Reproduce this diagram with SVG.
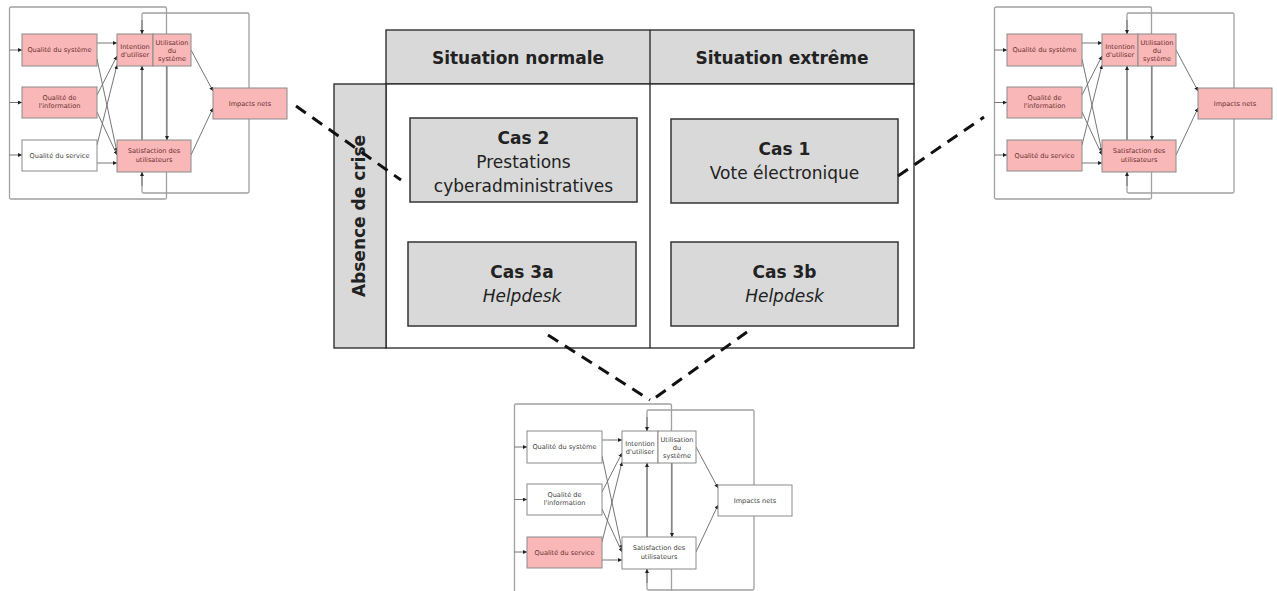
<svg xmlns="http://www.w3.org/2000/svg" xmlns:xlink="http://www.w3.org/1999/xlink" width="1277" height="591" viewBox="0 0 1277 591">
<style>
.hdr{fill:#d9d9d9;stroke:#222;stroke-width:1.3}
.body{fill:#fff;stroke:#222;stroke-width:1.3}
.case{fill:#d9d9d9;stroke:#333;stroke-width:1.5}
.t{font-family:"DejaVu Sans","Verdana",sans-serif;font-size:17px;fill:#222;text-anchor:middle}
.b{font-weight:bold}
.i{font-style:italic}
.mt{font-family:"DejaVu Sans","Verdana",sans-serif;font-size:6.6px;text-anchor:middle}
.pk{fill:#f9b7b7;stroke:#8a8a8a;stroke-width:1}
.wh{fill:#fff;stroke:#8a8a8a;stroke-width:1}
.pkt{fill:#6a3030}
.wht{fill:#444}
.loop{fill:none;stroke:#a0a0a0;stroke-width:1.3}
.ar{fill:none;stroke:#666;stroke-width:0.9}
.dash{fill:none;stroke:#111;stroke-width:3;stroke-dasharray:12 8}
</style>
<defs>
<marker id="ah" viewBox="0 0 6 6" refX="6" refY="3" markerWidth="4" markerHeight="4" markerUnits="userSpaceOnUse" orient="auto">
<path d="M0,0 L6,3 L0,6 z" fill="#222"/>
</marker>
<g id="links">
<rect class="loop" x="9.5" y="7" width="157" height="192" rx="1.5"/>
<rect class="loop" x="142" y="13" width="107" height="180" rx="1.5"/>
<line class="ar" x1="9.5" y1="50" x2="22" y2="50" marker-end="url(#ah)"/>
<line class="ar" x1="9.5" y1="102.5" x2="22" y2="102.5" marker-end="url(#ah)"/>
<line class="ar" x1="9.5" y1="155" x2="22" y2="155" marker-end="url(#ah)"/>
<line class="ar" x1="97" y1="43" x2="117" y2="43" marker-end="url(#ah)"/>
<line class="ar" x1="97" y1="59" x2="117" y2="152" marker-end="url(#ah)"/>
<line class="ar" x1="97" y1="95" x2="117" y2="56" marker-end="url(#ah)"/>
<line class="ar" x1="97" y1="112" x2="117" y2="155" marker-end="url(#ah)"/>
<line class="ar" x1="97" y1="145" x2="117" y2="65" marker-end="url(#ah)"/>
<line class="ar" x1="97" y1="163" x2="117" y2="163" marker-end="url(#ah)"/>
<line class="ar" x1="142" y1="140" x2="142" y2="66" marker-end="url(#ah)"/>
<line class="ar" x1="167" y1="66" x2="167" y2="140" marker-end="url(#ah)"/>
<line class="ar" x1="142" y1="20" x2="142" y2="34" marker-end="url(#ah)"/>
<line class="ar" x1="142" y1="186" x2="142" y2="172" marker-end="url(#ah)"/>
<line class="ar" x1="191" y1="50" x2="213" y2="91" marker-end="url(#ah)"/>
<line class="ar" x1="191" y1="155" x2="213" y2="108" marker-end="url(#ah)"/>
</g>
</defs>

<!-- Mini diagram top-left -->
<g id="mini-top-left">
<use xlink:href="#links" href="#links"/>
<g id="tl-qsys"><rect class="pk" x="22" y="34" width="75" height="32"/><text class="mt pkt" x="59.5" y="52.3">Qualité du système</text></g>
<g id="tl-qinfo"><rect class="pk" x="22" y="87" width="75" height="31"/><text class="mt pkt" x="59.5" y="100">Qualité de</text><text class="mt pkt" x="59.5" y="108.3">l'information</text></g>
<g id="tl-qserv"><rect class="wh" x="22" y="140" width="75" height="31"/><text class="mt wht" x="59.5" y="157.8">Qualité du service</text></g>
<g id="tl-int"><rect class="pk" x="117" y="34" width="36" height="32"/><text class="mt pkt" x="135" y="48.5">Intention</text><text class="mt pkt" x="135" y="57">d'utiliser</text></g>
<g id="tl-util"><rect class="pk" x="153" y="34" width="38" height="32"/><text class="mt pkt" x="172" y="44.5">Utilisation</text><text class="mt pkt" x="172" y="52.8">du</text><text class="mt pkt" x="172" y="61">système</text></g>
<g id="tl-sat"><rect class="pk" x="117" y="140" width="74" height="32"/><text class="mt pkt" x="154" y="153">Satisfaction des</text><text class="mt pkt" x="154" y="161.5">utilisateurs</text></g>
<g id="tl-imp"><rect class="pk" x="213" y="88" width="74" height="31"/><text class="mt pkt" x="250" y="105.8">Impacts nets</text></g>
</g>

<!-- Mini diagram top-right -->
<g id="mini-top-right" transform="translate(985,0)">
<use xlink:href="#links" href="#links"/>
<g id="tr-qsys"><rect class="pk" x="22" y="34" width="75" height="32"/><text class="mt pkt" x="59.5" y="52.3">Qualité du système</text></g>
<g id="tr-qinfo"><rect class="pk" x="22" y="87" width="75" height="31"/><text class="mt pkt" x="59.5" y="100">Qualité de</text><text class="mt pkt" x="59.5" y="108.3">l'information</text></g>
<g id="tr-qserv"><rect class="pk" x="22" y="140" width="75" height="31"/><text class="mt pkt" x="59.5" y="157.8">Qualité du service</text></g>
<g id="tr-int"><rect class="pk" x="117" y="34" width="36" height="32"/><text class="mt pkt" x="135" y="48.5">Intention</text><text class="mt pkt" x="135" y="57">d'utiliser</text></g>
<g id="tr-util"><rect class="pk" x="153" y="34" width="38" height="32"/><text class="mt pkt" x="172" y="44.5">Utilisation</text><text class="mt pkt" x="172" y="52.8">du</text><text class="mt pkt" x="172" y="61">système</text></g>
<g id="tr-sat"><rect class="pk" x="117" y="140" width="74" height="32"/><text class="mt pkt" x="154" y="153">Satisfaction des</text><text class="mt pkt" x="154" y="161.5">utilisateurs</text></g>
<g id="tr-imp"><rect class="pk" x="213" y="88" width="74" height="31"/><text class="mt pkt" x="250" y="105.8">Impacts nets</text></g>
</g>

<!-- Mini diagram bottom -->
<g id="mini-bottom" transform="translate(505,397)">
<use xlink:href="#links" href="#links"/>
<g id="bt-qsys"><rect class="wh" x="22" y="34" width="75" height="32"/><text class="mt wht" x="59.5" y="52.3">Qualité du système</text></g>
<g id="bt-qinfo"><rect class="wh" x="22" y="87" width="75" height="31"/><text class="mt wht" x="59.5" y="100">Qualité de</text><text class="mt wht" x="59.5" y="108.3">l'information</text></g>
<g id="bt-qserv"><rect class="pk" x="22" y="140" width="75" height="31"/><text class="mt pkt" x="59.5" y="157.8">Qualité du service</text></g>
<g id="bt-int"><rect class="wh" x="117" y="34" width="36" height="32"/><text class="mt wht" x="135" y="48.5">Intention</text><text class="mt wht" x="135" y="57">d'utiliser</text></g>
<g id="bt-util"><rect class="wh" x="153" y="34" width="38" height="32"/><text class="mt wht" x="172" y="44.5">Utilisation</text><text class="mt wht" x="172" y="52.8">du</text><text class="mt wht" x="172" y="61">système</text></g>
<g id="bt-sat"><rect class="wh" x="117" y="140" width="74" height="32"/><text class="mt wht" x="154" y="153">Satisfaction des</text><text class="mt wht" x="154" y="161.5">utilisateurs</text></g>
<g id="bt-imp"><rect class="wh" x="213" y="88" width="74" height="31"/><text class="mt wht" x="250" y="105.8">Impacts nets</text></g>
</g>

<!-- Central table -->
<g id="table">
<rect class="hdr" x="386" y="30" width="528" height="54"/>
<rect class="body" x="386" y="84" width="528" height="264"/>
<rect class="hdr" x="334" y="84" width="52" height="264"/>
<line x1="650" y1="30" x2="650" y2="348" stroke="#222" stroke-width="1.3"/>
<text class="t b" x="518" y="64">Situation normale</text>
<text class="t b" x="782" y="64">Situation extrême</text>
<text class="t b" transform="translate(365,216) rotate(-90)" x="0" y="0">Absence de crise</text>
</g>
<g id="cas2"><rect class="case" x="410" y="118" width="227" height="84"/>
<text class="t b" x="523.5" y="144">Cas 2</text>
<text class="t" x="523.5" y="168">Prestations</text>
<text class="t" x="523.5" y="192">cyberadministratives</text></g>
<g id="cas1"><rect class="case" x="671" y="119" width="227" height="84"/>
<text class="t b" x="784.5" y="155">Cas 1</text>
<text class="t" x="784.5" y="179">Vote électronique</text></g>
<g id="cas3a"><rect class="case" x="408" y="242" width="228" height="84"/>
<text class="t b" x="522" y="278">Cas 3a</text>
<text class="t i" x="522" y="302">Helpdesk</text></g>
<g id="cas3b"><rect class="case" x="671" y="242" width="227" height="84"/>
<text class="t b" x="784.5" y="278">Cas 3b</text>
<text class="t i" x="784.5" y="302">Helpdesk</text></g>

<!-- Connectors -->
<g id="connectors">
<line class="dash" x1="296" y1="106" x2="401" y2="180"/>
<line class="dash" x1="898" y1="176" x2="984" y2="117"/>
<line class="dash" x1="548" y1="335" x2="650" y2="400"/>
<line class="dash" x1="747" y1="332" x2="652" y2="400"/>
</g>
</svg>
